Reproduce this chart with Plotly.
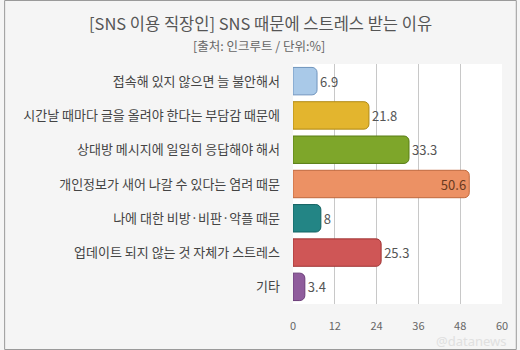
import plotly.graph_objects as go

categories = [
    "접속해 있지 않으면 늘 불안해서",
    "시간날 때마다 글을 올려야 한다는 부담감 때문에",
    "상대방 메시지에 일일히 응답해야 해서",
    "개인정보가 새어 나갈 수 있다는 염려 때문",
    "나에 대한 비방·비판·악플 때문",
    "업데이트 되지 않는 것 자체가 스트레스",
    "기타",
]
values = [6.9, 21.8, 33.3, 50.6, 8, 25.3, 3.4]
labels = ["6.9", "21.8", "33.3", "50.6", "8", "25.3", "3.4"]
colors = ["#a9c9e8", "#e3b52e", "#7ea62a", "#ec9164", "#238585", "#cf5656", "#8f5c9c"]
edges = ["#6f94bd", "#b08a14", "#587d14", "#c0683c", "#136262", "#a03434", "#6a3c78"]
tick_vals = [0, 12, 24, 36, 48, 60]

W, H = 520, 350
ml, mr, mt, mb = 293, 15, 64, 46
pw, ph = W - ml - mr, H - mt - mb

def px_to_paper_x(px):
    return (px - ml) / pw

def px_to_paper_y(py):
    return (H - mb - py) / ph

textpos = ["inside" if v > 45 else "outside" for v in values]

fig = go.Figure()
fig.add_trace(go.Bar(
    x=values, y=categories, orientation="h",
    marker=dict(color=colors, line=dict(color=edges, width=1), cornerradius=5),
    text=labels, textposition=textpos, insidetextanchor="end",
    textfont=dict(size=13, color="#555555", family="Noto Sans CJK KR"),
    outsidetextfont=dict(size=13, color="#555555"),
    insidetextfont=dict(size=13, color="#6a3a20"),
    cliponaxis=False, width=0.8,
))

fig.update_layout(
    width=W, height=H,
    margin=dict(l=ml, r=mr, t=mt, b=mb),
    paper_bgcolor="#f5f5f5", plot_bgcolor="#ffffff",
    font=dict(family="Noto Sans CJK KR", color="#444444"),
    showlegend=False,
    xaxis=dict(range=[0, 60], tickvals=tick_vals, showgrid=True, gridcolor="#c8c8c8",
               gridwidth=1, zeroline=False, showline=False,
               tickfont=dict(size=11, color="#666666"), ticks="", ticklen=0,
               ticklabelstandoff=14),
    yaxis=dict(autorange="reversed", showgrid=False, zeroline=False, showline=False,
               tickfont=dict(size=13, color="#444444"), ticks="", ticklabelstandoff=12),
    annotations=[
        dict(text="[SNS 이용 직장인] SNS 때문에 스트레스 받는 이유", xref="paper", yref="paper",
             x=px_to_paper_x(260), y=px_to_paper_y(23), showarrow=False,
             xanchor="center", yanchor="middle",
             font=dict(size=16.5, color="#555555", family="Noto Sans CJK KR")),
        dict(text="[출처: 인크루트 / 단위:%]", xref="paper", yref="paper",
             x=px_to_paper_x(259), y=px_to_paper_y(45), showarrow=False,
             xanchor="center", yanchor="middle",
             font=dict(size=12.5, color="#666666", family="Noto Sans CJK KR")),
        dict(text="@datanews", xref="paper", yref="paper",
             x=px_to_paper_x(512), y=px_to_paper_y(341), showarrow=False,
             xanchor="right", yanchor="middle",
             font=dict(size=13, color="#e0e0e0", family="Noto Sans")),
    ],
    shapes=[
        dict(type="rect", xref="paper", yref="paper", layer="above",
             x0=px_to_paper_x(0.5), x1=px_to_paper_x(W - 0.5),
             y0=px_to_paper_y(H - 0.5), y1=px_to_paper_y(0.5),
             line=dict(color="#9a9a9a", width=1), fillcolor="rgba(0,0,0,0)"),
    ],
)

fig.write_html("out.html")
